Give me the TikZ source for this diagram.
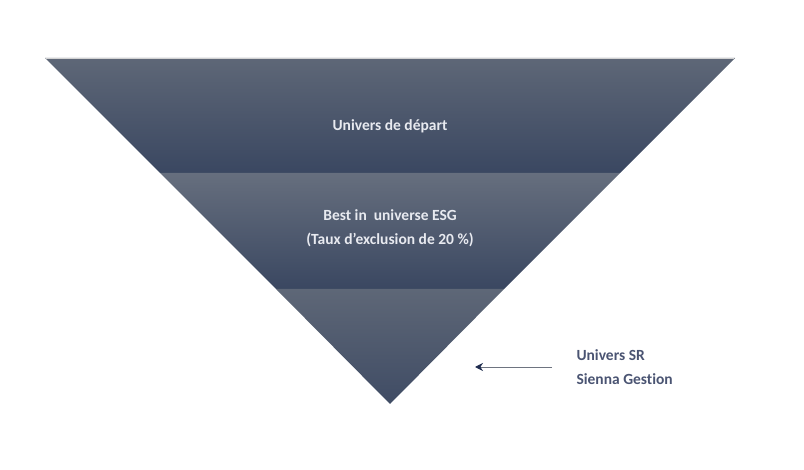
\documentclass[tikz,border=0pt]{standalone}
\usepackage{fontspec}
\setmainfont{Carlito}[Ligatures=NoCommon]
\definecolor{bandtop}{HTML}{5E6777}
\definecolor{bandbot}{HTML}{3A4761}
\definecolor{labelgrey}{HTML}{E8EAF0}
\definecolor{sidetext}{HTML}{4A5472}
\definecolor{arrowline}{HTML}{6E7480}
\definecolor{arrowhead}{HTML}{1E2B4E}
\usetikzlibrary{arrows.meta}
\begin{document}
\begin{tikzpicture}[x=1pt,y=-1pt]
    \tikzstyle{band}=[top color=bandtop,bottom color=bandbot]
    \tikzstyle{inner}=[text=labelgrey,font=\fontsize{15.5}{24}\selectfont\bfseries,align=center]
    \tikzstyle{side}=[text=sidetext,font=\fontsize{15.5}{24}\selectfont\bfseries,align=left,anchor=west]
    \tikzstyle{pointer}=[draw=arrowline,thick,-{Stealth[length=8pt,width=8pt,color=arrowhead]}]
    \useasboundingbox (0,0) rectangle (804,470);
    \begin{scope}
        \shade[band] (45,58) -- (735,58) -- (620,173) -- (160,173) -- cycle;
        \shade[band,top color=bandtop!95!white] (160,173) -- (620,173) -- (504,289) -- (276,289) -- cycle;
        \shade[band,bottom color=bandbot!85!bandtop] (276,289) -- (504,289) -- (390,404) -- cycle;
        \draw[white!65!gray,line width=0.8pt] (46,58) -- (734,58);
        \node [inner] (start) at (390,126) {Univers de départ};
        \node [inner] (esg) at (390,228) {Best in\ \ universe ESG\\(Taux d’exclusion de 20 \%)};
        \node [side] (sr) at (573,367) {Univers SR\\Sienna Gestion};
        \path (sr.west) ++(-98,0) coordinate (tip);
        \draw[pointer] ([xshift=-21pt]sr.west) -- (tip);
    \end{scope}
\end{tikzpicture}
\end{document}
